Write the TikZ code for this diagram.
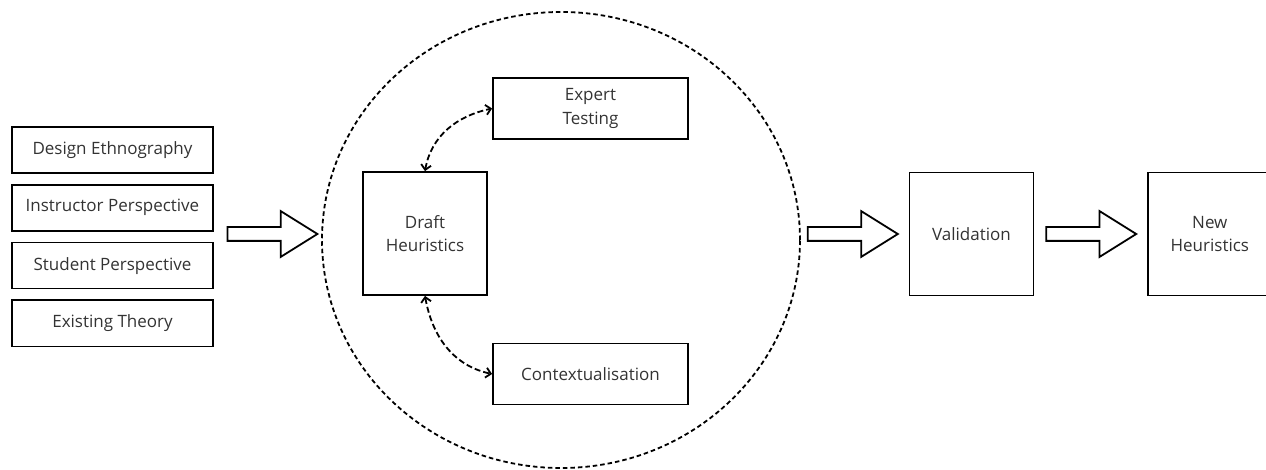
\documentclass[tikz,border=0pt]{standalone}
\usepackage{fontspec}
\setmainfont{Open Sans}
\usetikzlibrary{arrows.meta,positioning,shapes.arrows,shapes.geometric}

\begin{document}
\begin{tikzpicture}[
            x=1pt, y=-1pt,
            font=\fontsize{17}{23.5}\selectfont,
            node distance=10pt,
            src/.style={draw, line width=1.8pt, text=black!80,
            minimum width=201pt, minimum height=46pt, inner sep=2pt, align=center},
            stage/.style={draw, line width=1.8pt, text=black!80,
            minimum width=124pt, minimum height=123pt, align=center},
            task/.style={draw, line width=1.8pt, text=black!80,
            minimum width=195pt, minimum height=61pt, align=center},
            flow/.style={single arrow, draw, line width=1.8pt,
            minimum height=90pt, minimum width=44pt, inner xsep=0pt, inner ysep=6pt,
            single arrow head extend=16pt, single arrow tip angle=64},
            feedback/.style={line width=1.8pt, dash pattern=on 6pt off 3pt,
            {Straight Barb[length=5pt]}-{Straight Barb[length=5pt]}}
        ]
            \useasboundingbox (0,0) rectangle (1266,470);

% Inputs
            \node[src] at (112.5,150)  (ethno)   {Design Ethnography};
            \node[src, below=of ethno] (instr)   {Instructor Perspective};
            \node[src, below=of instr] (stud)    {Student Perspective};
            \node[src, below=of stud]  (theory)  {Existing Theory};

% Development cycle
            \node[ellipse, draw, line width=1.8pt, dash pattern=on 4.5pt off 3pt,
                minimum width=478pt, minimum height=456pt, inner sep=0pt] (cycle) at (561,240) {};
            \node[stage] at (425,233.5)  (draft)   {Draft\\Heuristics};
            \node[task]  at (590.5,108.5) (expert) {Expert\\Testing};
            \node[task]  at (590.5,374)   (context) {Contextualisation};

            \draw[feedback] (draft.north) to[out=80, in=192] (expert.west);
            \draw[feedback] (draft.south) to[out=-80, in=168] (context.west);

% Block arrows and later stages
            \node[flow, left=2pt of cycle, yshift=6pt] (arr1) {};
            \node[flow, right=6pt of cycle, yshift=6pt] (arr2) {};
            \node[stage, right=9pt of arr2] (valid) {Validation};
            \node[flow, right=11pt of valid] (arr3) {};
            \node[stage, right=9pt of arr3] (newh) {New\\Heuristics};
        \end{tikzpicture}
\end{document}
